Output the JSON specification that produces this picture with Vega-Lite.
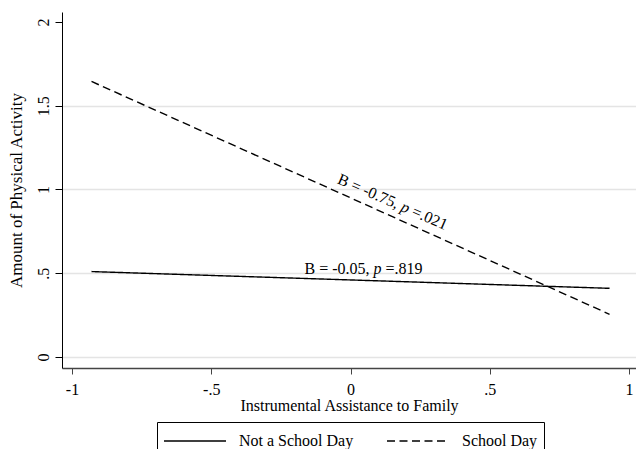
{
  "$schema": "https://vega.github.io/schema/vega-lite/v6.json",
  "width": 574,
  "height": 356,
  "autosize": {"type": "none"},
  "padding": {"left": 62, "top": 12, "right": 0, "bottom": 81},
  "background": "white",
  "config": {
    "view": {"stroke": null},
    "font": "Liberation Serif",
    "axis": {
      "labelFont": "Liberation Serif",
      "titleFont": "Liberation Serif",
      "labelFontSize": 16,
      "titleFontSize": 16,
      "titleFontWeight": "normal",
      "labelColor": "black",
      "titleColor": "black",
      "labelFlush": false,
      "labelOverlap": false
    }
  },
  "datasets": {
    "lines": [
      {"x": -0.93, "y": 0.51, "series": "Not a School Day"},
      {"x": 0.93, "y": 0.41, "series": "Not a School Day"},
      {"x": -0.93, "y": 1.645, "series": "School Day"},
      {"x": 0.93, "y": 0.255, "series": "School Day"}
    ],
    "notes": [
      {"x": -0.165, "y": 0.527, "series": "Not a School Day", "pre": "B = -0.05,", "p": "p", "post": "=.819"},
      {"x": -0.043, "y": 1.066, "series": "School Day", "pre": "B = -0.75,", "p": "p", "post": "=.021"}
    ]
  },
  "layer": [
    {
      "data": {"name": "lines"},
      "mark": {"type": "line", "color": "black", "strokeWidth": 1.4},
      "encoding": {
        "x": {
          "field": "x", "type": "quantitative",
          "scale": {"domain": [-1.036, 1.025], "nice": false, "zero": false},
          "axis": {
            "title": "Instrumental Assistance to Family",
            "values": [-1, -0.5, 0, 0.5, 1],
            "labelExpr": "datum.value == -1 ? '-1' : datum.value == -0.5 ? '-.5' : datum.value == 0 ? '0' : datum.value == 0.5 ? '.5' : '1'",
            "grid": false,
            "tickSize": 6,
            "tickColor": "#444",
            "domainColor": "#444",
            "domainWidth": 1.3,
            "labelPadding": 7,
            "titlePadding": 0
          }
        },
        "y": {
          "field": "y", "type": "quantitative",
          "scale": {"domain": [-0.0657, 2.0597], "nice": false, "zero": false},
          "axis": {
            "title": "Amount of Physical Activity",
            "titleFontSize": 17,
            "values": [0, 0.5, 1, 1.5, 2],
            "labelExpr": "datum.value == 0 ? '0' : datum.value == 0.5 ? '.5' : datum.value == 1 ? '1' : datum.value == 1.5 ? '1.5' : '2'",
            "labelAngle": 270,
            "labelAlign": "center",
            "labelBaseline": "bottom",
            "labelPadding": 4,
            "tickSize": 7,
            "tickColor": "black",
            "domainColor": "black",
            "grid": true,
            "gridColor": "#e4e4e4",
            "gridWidth": 1.5,
            "gridOpacity": {"condition": {"test": "datum.value === 2", "value": 0}, "value": 1},
            "titlePadding": 10
          }
        },
        "strokeDash": {
          "field": "series", "type": "nominal",
          "scale": {"domain": ["Not a School Day", "School Day"], "range": [[1, 0], [8, 4.5]]},
          "legend": {
            "orient": "none",
            "legendX": 95,
            "legendY": 410,
            "direction": "horizontal",
            "title": null,
            "symbolType": "M-1,0L4.1667,0",
            "symbolSize": 576,
            "symbolStrokeWidth": 1.4,
            "symbolStrokeColor": "black",
            "symbolFillColor": "transparent",
            "labelFont": "Liberation Serif",
            "labelFontSize": 16,
            "labelColor": "black",
            "labelOffset": 50,
            "labelLimit": 300,
            "columnPadding": 30,
            "padding": 6,
            "strokeColor": "black",
            "fillColor": "white"
          }
        },
        "detail": {"field": "series"}
      }
    },
    {
      "data": {"name": "notes"},
      "transform": [{"filter": "datum.series == 'Not a School Day'"}],
      "layer": [
        {
          "mark": {"type": "text", "font": "Liberation Serif", "fontSize": 16, "color": "black", "align": "left", "baseline": "middle", "dx": 0},
          "encoding": {"x": {"field": "x", "type": "quantitative"}, "y": {"field": "y", "type": "quantitative"}, "text": {"field": "pre"}}
        },
        {
          "mark": {"type": "text", "font": "Liberation Serif", "fontSize": 16, "fontStyle": "italic", "color": "black", "align": "left", "baseline": "middle", "dx": 69},
          "encoding": {"x": {"field": "x", "type": "quantitative"}, "y": {"field": "y", "type": "quantitative"}, "text": {"field": "p"}}
        },
        {
          "mark": {"type": "text", "font": "Liberation Serif", "fontSize": 16, "color": "black", "align": "left", "baseline": "middle", "dx": 81},
          "encoding": {"x": {"field": "x", "type": "quantitative"}, "y": {"field": "y", "type": "quantitative"}, "text": {"field": "post"}}
        }
      ]
    },
    {
      "data": {"name": "notes"},
      "transform": [{"filter": "datum.series == 'School Day'"}],
      "layer": [
        {
          "mark": {"type": "text", "font": "Liberation Serif", "fontSize": 16, "color": "black", "align": "left", "baseline": "middle", "angle": 23.5, "dx": 0},
          "encoding": {"x": {"field": "x", "type": "quantitative"}, "y": {"field": "y", "type": "quantitative"}, "text": {"field": "pre"}}
        },
        {
          "mark": {"type": "text", "font": "Liberation Serif", "fontSize": 16, "fontStyle": "italic", "color": "black", "align": "left", "baseline": "middle", "angle": 23.5, "dx": 69},
          "encoding": {"x": {"field": "x", "type": "quantitative"}, "y": {"field": "y", "type": "quantitative"}, "text": {"field": "p"}}
        },
        {
          "mark": {"type": "text", "font": "Liberation Serif", "fontSize": 16, "color": "black", "align": "left", "baseline": "middle", "angle": 23.5, "dx": 81},
          "encoding": {"x": {"field": "x", "type": "quantitative"}, "y": {"field": "y", "type": "quantitative"}, "text": {"field": "post"}}
        }
      ]
    }
  ]
}
